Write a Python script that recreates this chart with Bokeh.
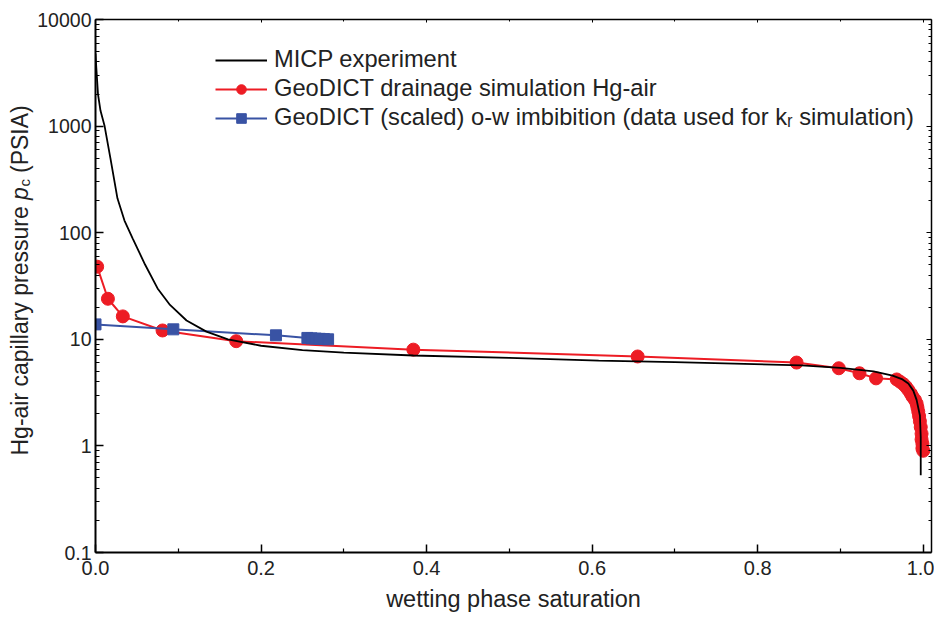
import math
from bokeh.plotting import figure
from bokeh.layouts import row
from bokeh.models import (Range1d, FixedTicker, LinearAxis, LogAxis, Legend,
                          LegendItem, PrintfTickFormatter, CustomJSTickFormatter)
from bokeh.core.properties import value
from bokeh.embed import file_html
from bokeh.resources import INLINE

# ---------------- data ----------------
micp_s = [0.0, 0.001, 0.003, 0.006, 0.011, 0.018, 0.0265, 0.035, 0.045, 0.06, 0.075,
          0.09, 0.11, 0.134, 0.16, 0.2, 0.25, 0.3, 0.384, 0.5, 0.608, 0.7, 0.853,
          0.9, 0.94, 0.963, 0.975, 0.982, 0.988, 0.992, 0.996, 0.997, 0.997]
micp_pc = [4800, 3500, 2000, 1400, 1000, 500, 210, 130, 88, 50, 30,
           21, 15, 11.8, 10.0, 8.7, 7.9, 7.5, 7.05, 6.7, 6.3, 6.1, 5.7,
           5.4, 5.0, 4.57, 4.2, 3.85, 3.3, 2.7, 1.93, 1.2, 0.53]

drain_s = [0.002, 0.015, 0.033, 0.081, 0.170, 0.384, 0.655, 0.847, 0.898, 0.923, 0.943,
           0.968, 0.972, 0.976, 0.979, 0.982, 0.985, 0.987, 0.990, 0.992, 0.993, 0.994,
           0.995, 0.996, 0.997, 0.998, 0.998, 0.999, 0.999, 1.0]
drain_pc = [48, 24, 16.4, 12.1, 9.6, 8.0, 6.9, 6.05, 5.35, 4.8, 4.3,
            4.2, 4.0, 3.8, 3.6, 3.35, 3.1, 2.9, 2.7, 2.5, 2.3, 2.1,
            1.9, 1.7, 1.5, 1.3, 1.15, 1.05, 0.95, 0.9]

imb_s = [0.0, 0.094, 0.218, 0.256, 0.261, 0.266, 0.271, 0.276, 0.281]
imb_pc = [13.8, 12.4, 10.9, 10.3, 10.2, 10.15, 10.1, 10.05, 10.0]

x_major = [0.0, 0.2, 0.4, 0.6, 0.8, 1.0]
x_minor = [0.1, 0.3, 0.5, 0.7, 0.9]
y_major = [0.1, 1, 10, 100, 1000, 10000]
y_minor = [m * d for d in [0.1, 1, 10, 100, 1000] for m in range(2, 10)]

series_names = ["MICP experiment",
                "GeoDICT drainage simulation Hg-air",
                "GeoDICT (scaled) o-w imbibition (data used for k\u1d63 simulation)"]
x_title = "wetting phase saturation"
y_title_parts = ["Hg-air capillary pressure", "p", "c", "(PSIA)"]

# ---------------- styles ----------------
RED = "#ED1C24"
BLUE = "#3953A4"
FONT = "Liberation Sans"
TXT = "#222222"
TOTAL_W, TOTAL_H = 934, 614
LAB_W = 34
BORDER_TOP, BORDER_BOTTOM = 19, 62
FRAME_H = TOTAL_H - BORDER_TOP - BORDER_BOTTOM

# ---------------- main plot ----------------
p = figure(width=TOTAL_W - LAB_W, height=TOTAL_H,
           x_range=Range1d(0, 1.01), y_range=Range1d(0.1, 10000),
           y_axis_type="log", output_backend="svg", toolbar_location=None,
           min_border_left=60, min_border_right=3, min_border_top=BORDER_TOP,
           min_border_bottom=BORDER_BOTTOM)
p.grid.grid_line_color = None
p.outline_line_color = None
p.background_fill_color = "white"
p.border_fill_color = "white"

xa = p.below[0]
xa.ticker = FixedTicker(ticks=x_major, minor_ticks=x_minor)
xa.formatter = PrintfTickFormatter(format="%.1f")
ya = p.left[0]
ya.ticker = FixedTicker(ticks=y_major, minor_ticks=y_minor)
ya.formatter = CustomJSTickFormatter(code="return tick.toString();")

for ax in (xa, ya):
    ax.axis_line_color = "black"
    ax.axis_line_width = 2
    ax.major_tick_line_color = "black"
    ax.minor_tick_line_color = "black"
    ax.major_tick_line_width = 1.5
    ax.minor_tick_line_width = 1.2
    ax.major_tick_in = 8
    ax.major_tick_out = 0
    ax.minor_tick_in = 4
    ax.minor_tick_out = 0
    ax.major_label_text_font = FONT
    ax.major_label_text_color = TXT
xa.major_label_text_font_size = "20px"
ya.major_label_text_font_size = "19.5px"
xa.major_label_standoff = 8
ya.major_label_standoff = 4

xa.axis_label = x_title
xa.axis_label_text_font = FONT
xa.axis_label_text_font_size = "23.5px"
xa.axis_label_text_font_style = "normal"
xa.axis_label_text_color = TXT
xa.axis_label_standoff = 8

top = LinearAxis(ticker=FixedTicker(ticks=x_major, minor_ticks=x_minor),
                 formatter=CustomJSTickFormatter(code="return '';"))
right = LogAxis(ticker=FixedTicker(ticks=y_major, minor_ticks=y_minor),
                formatter=CustomJSTickFormatter(code="return '';"))
for ax in (top, right):
    ax.axis_line_color = "black"
    ax.axis_line_width = 1.5
    ax.major_tick_line_color = "black"
    ax.minor_tick_line_color = "black"
    ax.major_tick_out = 0
    ax.minor_tick_out = 0
    ax.major_label_standoff = 0
    ax.major_label_text_font_size = "1px"
top.major_tick_in = 3
top.minor_tick_in = 2
right.major_tick_in = 5
right.minor_tick_in = 3
p.add_layout(top, "above")
p.add_layout(right, "right")

# ---------------- series ----------------
r_red_line = p.line(drain_s, drain_pc, line_color=RED, line_width=2)
r_red_pts = p.scatter(drain_s, drain_pc, marker="circle", size=13,
                      fill_color=RED, line_color=RED)
r_blue_line = p.line(imb_s, imb_pc, line_color=BLUE, line_width=2)
r_blue_pts = p.scatter(imb_s, imb_pc, marker="square", size=11,
                       fill_color=BLUE, line_color=BLUE)
r_black = p.line(micp_s, micp_pc, line_color="black", line_width=1.8)

legend = Legend(items=[
    LegendItem(label=series_names[0], renderers=[r_black]),
    LegendItem(label=series_names[1], renderers=[r_red_line, r_red_pts]),
    LegendItem(label=series_names[2], renderers=[r_blue_line, r_blue_pts]),
], location=(120, 421))
legend.label_text_font = FONT
legend.label_text_font_size = "23.7px"
legend.label_text_color = TXT
legend.glyph_width = 52
legend.glyph_height = 24
legend.label_standoff = 7
legend.spacing = 2
legend.padding = 0
legend.margin = 0
legend.border_line_color = None
legend.background_fill_alpha = 0
p.add_layout(legend)

# ---------------- y-axis title strip (italic p, subscript c) ----------------
# the strip's frame is aligned with the main frame; its ranges are in pixels
lab = figure(width=LAB_W, height=TOTAL_H, x_range=Range1d(0, LAB_W),
             y_range=Range1d(0, FRAME_H), output_backend="svg",
             toolbar_location=None, x_axis_location=None, y_axis_location=None,
             min_border_left=0, min_border_right=0, min_border_top=BORDER_TOP,
             min_border_bottom=BORDER_BOTTOM)
lab.grid.grid_line_color = None
lab.outline_line_color = None
lab.background_fill_color = "white"
lab.border_fill_color = "white"

# offsets (px) along the rotated title, from its start
mid_x, start_y = 19.5, 97
title_x = [mid_x, mid_x, mid_x + 4.5, mid_x]
title_y = [start_y, start_y + 255.6, start_y + 269, start_y + 282.5]
title_size = ["23px", "23px", "15px", "23px"]
title_style = ["normal", "italic", "normal", "normal"]
for i in range(4):
    lab.text(x=[title_x[i]], y=[title_y[i]], text=[y_title_parts[i]],
             angle=math.pi / 2, text_font=value(FONT),
             text_font_size=value(title_size[i]),
             text_font_style=value(title_style[i]),
             text_color=TXT, text_align="left", text_baseline="middle")

layout = row(lab, p)
open("out.html", "w").write(file_html(layout, INLINE))
